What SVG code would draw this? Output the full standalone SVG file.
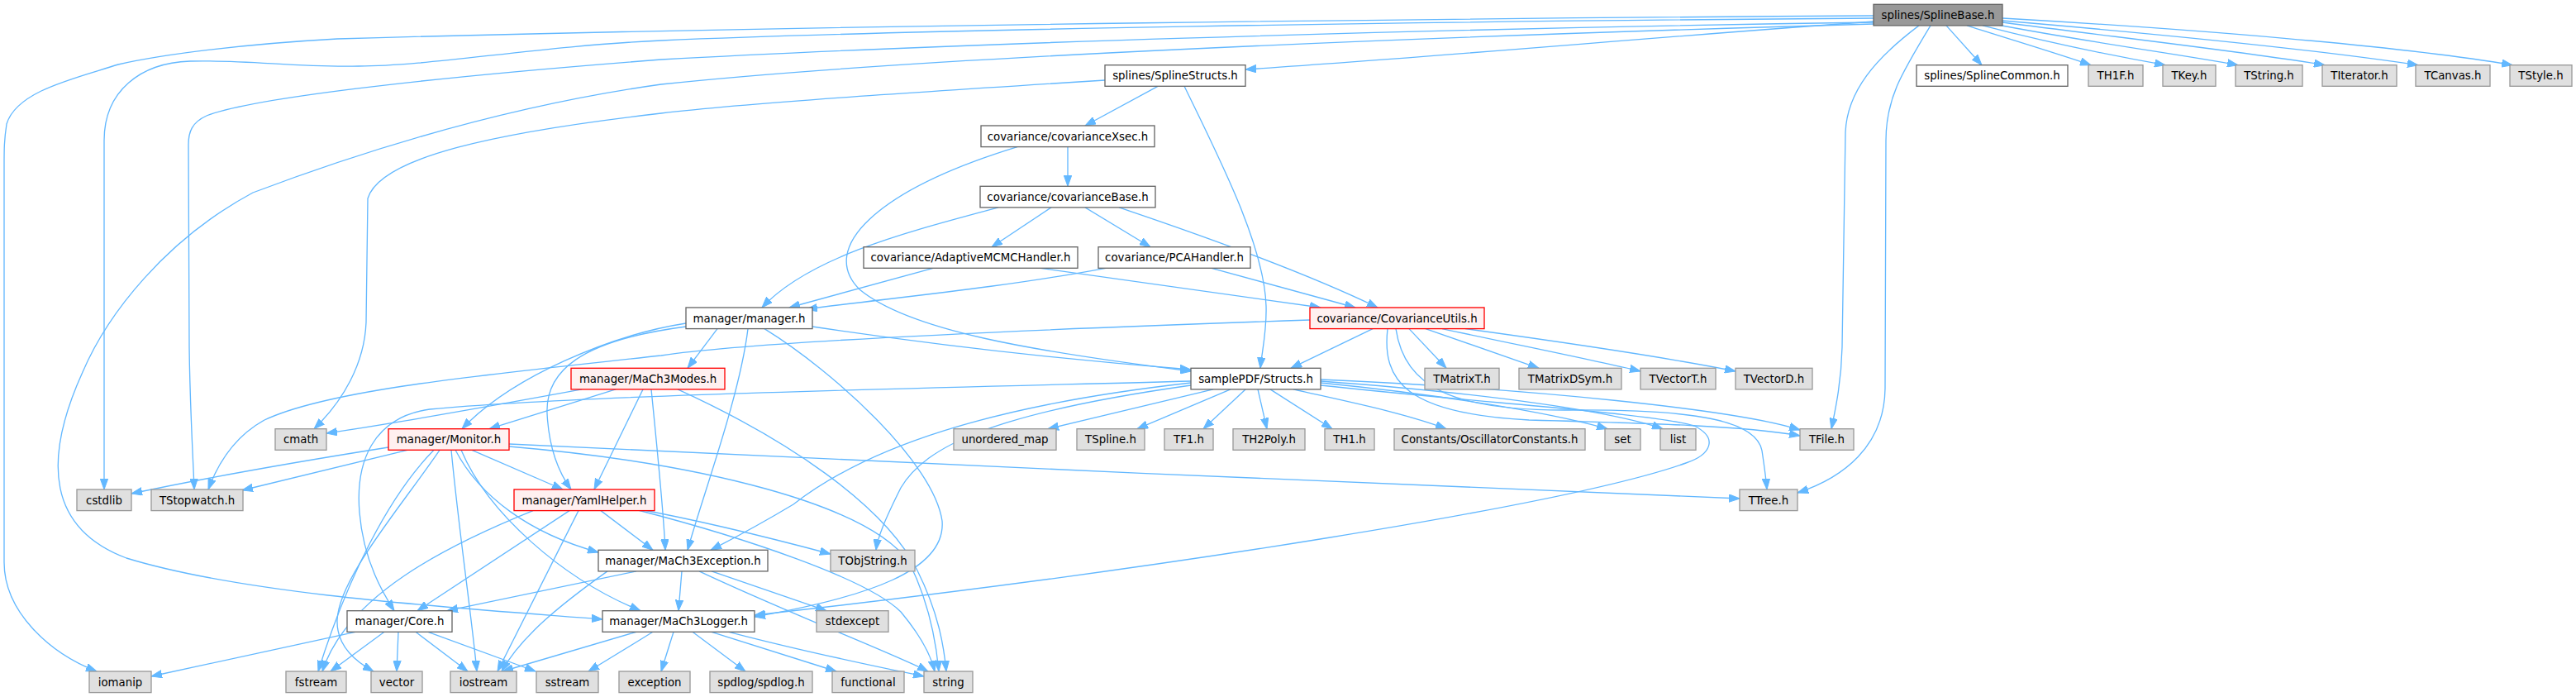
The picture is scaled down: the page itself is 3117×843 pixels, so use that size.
<svg xmlns="http://www.w3.org/2000/svg" width="3117" height="843" viewBox="0 0 3117 843">
<defs>
<style>
.node rect{stroke-width:1.33}
.main{fill:#999999;stroke:#666666}
.int{fill:#ffffff;stroke:#666666}
.red{fill:#FFF0F0;stroke:#FF0000}
.ext{fill:#E0E0E0;stroke:#999999}
.node text{font-family:"DejaVu Sans","Liberation Sans",sans-serif;font-size:13.33px;text-anchor:middle;fill:#000000}
#edges path{fill:none;stroke:#63B8FF;stroke-width:1.33;marker-end:url(#arr)}
</style>
<marker id="arr" markerUnits="userSpaceOnUse" markerWidth="14" markerHeight="10" refX="13" refY="5" orient="auto">
<path d="M0,0.3 L13,5 L0,9.7 z" fill="#63B8FF" stroke="#63B8FF" stroke-width="1"/>
</marker>
</defs>
<rect x="0" y="0" width="3117" height="843" fill="#ffffff"/>
<g id="edges">
<path d="M2267,26 C2000,45 1750,68 1507,84"/>
<path d="M2355,30.9 L2398,78.7"/>
<path d="M2380,30.9 C2440,50 2490,65 2530,78.7"/>
<path d="M2399,30.9 C2480,52 2560,68 2620,78.7"/>
<path d="M2412,29 C2520,50 2640,66 2708,78.7"/>
<path d="M2423,27 C2560,45 2720,63 2813,78.7"/>
<path d="M2423,25 C2600,40 2800,60 2926,78.7"/>
<path d="M2423,22 C2650,35 2900,55 3040,78.7"/>
<path d="M2322,30.9 C2270,70 2235,110 2233,160 L2229,420 C2228,460 2222,490 2216,518.7"/>
<path d="M2336,30.9 C2300,90 2282,120 2282,170 L2281,470 C2280,540 2230,578 2175,596"/>
<path d="M2267,19 C1800,22 1000,30 408,47 C300,53 200,65 143,78 C90,95 20,110 8,150 C5,170 5,180 5,200 L5,680 C5,740 60,790 117,812"/>
<path d="M2267,22 C1700,26 1100,36 800,49 C650,56 520,80 434,80 C360,82 300,72 230,74 C170,76 126,110 126,170 L126,592"/>
<path d="M2267,27 C1700,35 1100,55 800,72 C500,95 300,120 250,140 C232,148 228,160 228,175 L229,420 C230,500 234,560 235,592"/>
<path d="M2267,29 C1700,45 1100,70 800,102 C600,130 420,190 306,233 C200,290 130,380 100,450 C50,560 60,640 153,675 C300,720 550,735 729,749"/>
<path d="M1401,104.3 L1313,152"/>
<path d="M1337,97 C1100,112 900,125 800,137 C600,160 460,190 445,240 L443,390 C441,440 415,485 380,518.7"/>
<path d="M1433,104.3 C1480,200 1530,300 1532,370 C1533,400 1527,425 1525,445.3"/>
<path d="M1292,177.6 L1292,225.3"/>
<path d="M1231,177.6 C1060,230 990,300 1040,350 C1100,400 1250,425 1441,449"/>
<path d="M983,395 C1150,420 1300,436 1441,447"/>
<path d="M1208,250.9 C1100,280 980,310 922,372"/>
<path d="M1272,250.9 L1200,298.7"/>
<path d="M1313,250.9 L1392,298.7"/>
<path d="M1354,250.9 C1470,290 1580,330 1667,372"/>
<path d="M1129,324.3 L955,372"/>
<path d="M1259,324.3 L1598,372"/>
<path d="M1338,324.3 C1200,350 1060,362 976,374"/>
<path d="M1466,324.3 L1640,372"/>
<path d="M868,397.6 L832,445.3"/>
<path d="M830,391 C740,405 620,455 559,518.7"/>
<path d="M830,395 C700,412 660,450 662,500 C664,540 675,570 691,592"/>
<path d="M905,397.6 C895,480 850,600 832,665.3"/>
<path d="M925,397.6 C1010,450 1130,560 1140,630 C1145,690 1050,722 913,746"/>
<path d="M704,470.9 C600,490 480,512 395,524"/>
<path d="M745,470.9 L592,518.7"/>
<path d="M778,470.9 L719,592"/>
<path d="M788,470.9 C796,550 803,620 805,665.3"/>
<path d="M820,470.9 C950,530 1070,610 1110,690 C1135,740 1142,780 1145,812"/>
<path d="M470,541 C350,560 230,582 159,597"/>
<path d="M493,544.3 L293,593"/>
<path d="M571,544.3 L681,592"/>
<path d="M525,544.3 C470,600 420,700 385,812"/>
<path d="M532,544.3 C480,620 410,700 408,750 C407,780 430,800 452,812"/>
<path d="M546,544.3 C555,640 570,740 577,812"/>
<path d="M551,544.3 C580,600 640,645 724,668"/>
<path d="M558,544.3 C590,620 680,700 775,738.7"/>
<path d="M616,537 C1000,555 1700,588 2105,603"/>
<path d="M616,540 C850,560 1050,610 1100,680 C1125,730 1133,780 1136,812"/>
<path d="M645,617.6 C540,660 420,720 390,812"/>
<path d="M689,617.6 L505,738.7"/>
<path d="M700,617.6 L602,812"/>
<path d="M727,617.6 L790,665.3"/>
<path d="M768,615 C850,630 930,650 1005,670"/>
<path d="M772,617 C900,650 1050,700 1090,740 C1115,770 1127,795 1131,812"/>
<path d="M770,690.9 L541,738.7"/>
<path d="M825,690.9 L821,738.7"/>
<path d="M846,690.9 C950,740 1080,790 1123,812"/>
<path d="M861,690.9 L1000,738.7"/>
<path d="M735,690.9 C680,730 630,770 607,812"/>
<path d="M770,764.3 L608,812"/>
<path d="M790,764.3 L712,812"/>
<path d="M815,764.3 L800,812"/>
<path d="M838,764.3 L902,812"/>
<path d="M861,764.3 L1012,812"/>
<path d="M882,764.3 C980,790 1060,806 1118,818"/>
<path d="M430,764.3 L183,818"/>
<path d="M465,764.3 L400,812"/>
<path d="M482,764.3 L480,812"/>
<path d="M503,764.3 L566,812"/>
<path d="M518,764.3 L648,812"/>
<path d="M1441,461 C1100,470 700,478 520,495 C450,505 430,560 435,620 C440,680 465,720 477,738.7"/>
<path d="M1441,463 C1200,490 1050,540 960,610 C910,640 880,655 860,665.3"/>
<path d="M1441,466 C1200,500 1120,540 1090,590 C1070,630 1062,650 1060,665.3"/>
<path d="M1468,470.9 L1268,518.7"/>
<path d="M1489,470.9 L1376,518.7"/>
<path d="M1507,470.9 L1456,518.7"/>
<path d="M1522,470.9 L1533,518.7"/>
<path d="M1537,470.9 L1612,518.7"/>
<path d="M1565,470.9 C1650,490 1700,500 1750,518.7"/>
<path d="M1598,463 C1750,478 1880,500 1945,518.7"/>
<path d="M1598,461 C1800,476 1950,497 2012,518.7"/>
<path d="M1598,459 C1850,470 2100,495 2178,520"/>
<path d="M1598,466 C1800,488 2000,500 2050,515 C2080,530 2070,550 2040,560 C1900,610 1400,690 913,744"/>
<path d="M1661,397.6 L1562,445.3"/>
<path d="M1705,397.6 L1750,445.3"/>
<path d="M1725,397.6 L1862,445.3"/>
<path d="M1745,397.6 C1850,420 1930,436 1985,449"/>
<path d="M1773,397.6 C1900,415 2020,433 2100,449"/>
<path d="M1585,387 C1200,400 900,415 800,430 C600,452 400,470 320,508 C280,530 262,565 252,592"/>
<path d="M1679,397.6 C1672,460 1700,500 1850,508 C2000,512 2110,515 2178,527"/>
<path d="M1689,397.6 C1700,470 1760,497 1900,496 C2050,495 2125,508 2132,545 C2135,565 2137,580 2138,592"/>
</g>
<g id="n_splinebase" class="node"><rect class="main" x="2267" y="5.3" width="156" height="25.6"/><text x="2345" y="22.8">splines/SplineBase.h</text></g>
<g id="n_splinestructs" class="node"><rect class="int" x="1337" y="78.7" width="170" height="25.6"/><text x="1422" y="96.2">splines/SplineStructs.h</text></g>
<g id="n_splinecommon" class="node"><rect class="int" x="2319" y="78.7" width="183" height="25.6"/><text x="2410.5" y="96.2">splines/SplineCommon.h</text></g>
<g id="n_th1f" class="node"><rect class="ext" x="2527" y="78.7" width="66" height="25.6"/><text x="2560" y="96.2">TH1F.h</text></g>
<g id="n_tkey" class="node"><rect class="ext" x="2617" y="78.7" width="64" height="25.6"/><text x="2649" y="96.2">TKey.h</text></g>
<g id="n_tstring" class="node"><rect class="ext" x="2705" y="78.7" width="81" height="25.6"/><text x="2745.5" y="96.2">TString.h</text></g>
<g id="n_titerator" class="node"><rect class="ext" x="2810" y="78.7" width="90" height="25.6"/><text x="2855" y="96.2">TIterator.h</text></g>
<g id="n_tcanvas" class="node"><rect class="ext" x="2923" y="78.7" width="90" height="25.6"/><text x="2968" y="96.2">TCanvas.h</text></g>
<g id="n_tstyle" class="node"><rect class="ext" x="3037" y="78.7" width="75" height="25.6"/><text x="3074.5" y="96.2">TStyle.h</text></g>
<g id="n_covxsec" class="node"><rect class="int" x="1187" y="152" width="210" height="25.6"/><text x="1292" y="169.5">covariance/covarianceXsec.h</text></g>
<g id="n_covbase" class="node"><rect class="int" x="1186" y="225.3" width="212" height="25.6"/><text x="1292" y="242.8">covariance/covarianceBase.h</text></g>
<g id="n_adaptive" class="node"><rect class="int" x="1045" y="298.7" width="259" height="25.6"/><text x="1174.5" y="316.2">covariance/AdaptiveMCMCHandler.h</text></g>
<g id="n_pca" class="node"><rect class="int" x="1329" y="298.7" width="184" height="25.6"/><text x="1421" y="316.2">covariance/PCAHandler.h</text></g>
<g id="n_manager" class="node"><rect class="int" x="830" y="372" width="153" height="25.6"/><text x="906.5" y="389.5">manager/manager.h</text></g>
<g id="n_covutils" class="node"><rect class="red" x="1585" y="372" width="211" height="25.6"/><text x="1690.5" y="389.5">covariance/CovarianceUtils.h</text></g>
<g id="n_modes" class="node"><rect class="red" x="691" y="445.3" width="186" height="25.6"/><text x="784" y="462.8">manager/MaCh3Modes.h</text></g>
<g id="n_structs" class="node"><rect class="int" x="1441" y="445.3" width="157" height="25.6"/><text x="1519.5" y="462.8">samplePDF/Structs.h</text></g>
<g id="n_tmatrixt" class="node"><rect class="ext" x="1724" y="445.3" width="90" height="25.6"/><text x="1769" y="462.8">TMatrixT.h</text></g>
<g id="n_tmatrixdsym" class="node"><rect class="ext" x="1838" y="445.3" width="124" height="25.6"/><text x="1900" y="462.8">TMatrixDSym.h</text></g>
<g id="n_tvectort" class="node"><rect class="ext" x="1985" y="445.3" width="91" height="25.6"/><text x="2030.5" y="462.8">TVectorT.h</text></g>
<g id="n_tvectord" class="node"><rect class="ext" x="2100" y="445.3" width="93" height="25.6"/><text x="2146.5" y="462.8">TVectorD.h</text></g>
<g id="n_cmath" class="node"><rect class="ext" x="333" y="518.7" width="62" height="25.6"/><text x="364" y="536.2">cmath</text></g>
<g id="n_monitor" class="node"><rect class="red" x="470" y="518.7" width="146" height="25.6"/><text x="543" y="536.2">manager/Monitor.h</text></g>
<g id="n_umap" class="node"><rect class="ext" x="1154" y="518.7" width="124" height="25.6"/><text x="1216" y="536.2">unordered_map</text></g>
<g id="n_tspline" class="node"><rect class="ext" x="1303" y="518.7" width="82" height="25.6"/><text x="1344" y="536.2">TSpline.h</text></g>
<g id="n_tf1" class="node"><rect class="ext" x="1409" y="518.7" width="59" height="25.6"/><text x="1438.5" y="536.2">TF1.h</text></g>
<g id="n_th2poly" class="node"><rect class="ext" x="1492" y="518.7" width="87" height="25.6"/><text x="1535.5" y="536.2">TH2Poly.h</text></g>
<g id="n_th1" class="node"><rect class="ext" x="1603" y="518.7" width="60" height="25.6"/><text x="1633" y="536.2">TH1.h</text></g>
<g id="n_oscconst" class="node"><rect class="ext" x="1687" y="518.7" width="231" height="25.6"/><text x="1802.5" y="536.2">Constants/OscillatorConstants.h</text></g>
<g id="n_set" class="node"><rect class="ext" x="1942" y="518.7" width="43" height="25.6"/><text x="1963.5" y="536.2">set</text></g>
<g id="n_list" class="node"><rect class="ext" x="2009" y="518.7" width="43" height="25.6"/><text x="2030.5" y="536.2">list</text></g>
<g id="n_tfile" class="node"><rect class="ext" x="2178" y="518.7" width="65" height="25.6"/><text x="2210.5" y="536.2">TFile.h</text></g>
<g id="n_cstdlib" class="node"><rect class="ext" x="93" y="592" width="66" height="25.6"/><text x="126" y="609.5">cstdlib</text></g>
<g id="n_tstopwatch" class="node"><rect class="ext" x="183" y="592" width="111" height="25.6"/><text x="238.5" y="609.5">TStopwatch.h</text></g>
<g id="n_yaml" class="node"><rect class="red" x="622" y="592" width="170" height="25.6"/><text x="707" y="609.5">manager/YamlHelper.h</text></g>
<g id="n_ttree" class="node"><rect class="ext" x="2105" y="592" width="70" height="25.6"/><text x="2140" y="609.5">TTree.h</text></g>
<g id="n_exception_h" class="node"><rect class="int" x="724" y="665.3" width="205" height="25.6"/><text x="826.5" y="682.8">manager/MaCh3Exception.h</text></g>
<g id="n_tobjstring" class="node"><rect class="ext" x="1005" y="665.3" width="102" height="25.6"/><text x="1056" y="682.8">TObjString.h</text></g>
<g id="n_core" class="node"><rect class="int" x="420" y="738.7" width="127" height="25.6"/><text x="483.5" y="756.2">manager/Core.h</text></g>
<g id="n_logger" class="node"><rect class="int" x="729" y="738.7" width="184" height="25.6"/><text x="821" y="756.2">manager/MaCh3Logger.h</text></g>
<g id="n_stdexcept" class="node"><rect class="ext" x="988" y="738.7" width="87" height="25.6"/><text x="1031.5" y="756.2">stdexcept</text></g>
<g id="n_iomanip" class="node"><rect class="ext" x="108" y="812" width="75" height="25.6"/><text x="145.5" y="829.5">iomanip</text></g>
<g id="n_fstream" class="node"><rect class="ext" x="346" y="812" width="73" height="25.6"/><text x="382.5" y="829.5">fstream</text></g>
<g id="n_vector" class="node"><rect class="ext" x="449" y="812" width="62" height="25.6"/><text x="480" y="829.5">vector</text></g>
<g id="n_iostream" class="node"><rect class="ext" x="545" y="812" width="80" height="25.6"/><text x="585" y="829.5">iostream</text></g>
<g id="n_sstream" class="node"><rect class="ext" x="649" y="812" width="75" height="25.6"/><text x="686.5" y="829.5">sstream</text></g>
<g id="n_exception" class="node"><rect class="ext" x="749" y="812" width="86" height="25.6"/><text x="792" y="829.5">exception</text></g>
<g id="n_spdlog" class="node"><rect class="ext" x="859" y="812" width="124" height="25.6"/><text x="921" y="829.5">spdlog/spdlog.h</text></g>
<g id="n_functional" class="node"><rect class="ext" x="1007" y="812" width="87" height="25.6"/><text x="1050.5" y="829.5">functional</text></g>
<g id="n_string" class="node"><rect class="ext" x="1118" y="812" width="59" height="25.6"/><text x="1147.5" y="829.5">string</text></g>
</svg>
